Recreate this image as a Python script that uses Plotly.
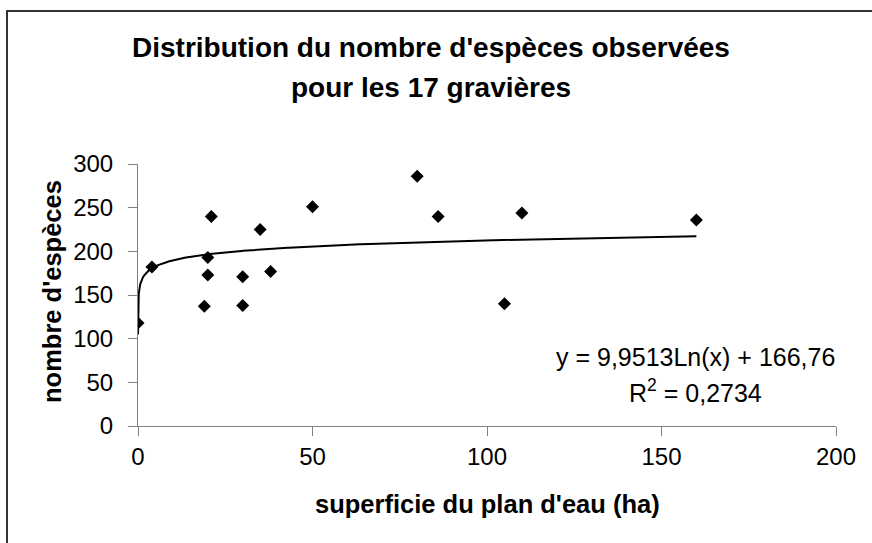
import numpy as np
import plotly.graph_objects as go

# Data
superficie_ha = [0.002, 4, 19, 20, 20, 21, 30, 30, 35, 38, 50, 80, 86, 105, 110, 160]
nombre_especes = [118, 182, 137, 173, 193, 240, 171, 138, 225, 177, 251, 286, 240, 140, 244, 236]

# Logarithmic trendline displayed on the chart
coef_a = 9.9513
coef_b = 166.76
equation_text = "y = 9,9513Ln(x) + 166,76"
r2_text = "R<sup>2</sup> = 0,2734"

title_line1 = "Distribution du nombre d'espèces observées"
title_line2 = "pour les 17 gravières"
x_title = "superficie du plan d'eau (ha)"
y_title = "nombre d'espèces"

x_ticks = [0, 50, 100, 150, 200]
y_ticks = [0, 50, 100, 150, 200, 250, 300]

FONT = "Liberation Sans, Arial, Helvetica, sans-serif"

x_min, x_max = min(superficie_ha), max(superficie_ha)
trend_x = np.concatenate([np.geomspace(x_min, 1, 200), np.linspace(1, x_max, 400)[1:]])
trend_y = coef_a * np.log(trend_x) + coef_b

fig = go.Figure()
fig.add_trace(go.Scatter(x=trend_x, y=trend_y, mode="lines",
                         line=dict(color="black", width=2), hoverinfo="skip"))
fig.add_trace(go.Scatter(x=superficie_ha, y=nombre_especes, mode="markers",
                         marker=dict(symbol="diamond", size=10, color="black")))

L, R, T, B = 138, 36, 164, 117
W, H = 872, 543
pw, ph = W - L - R, H - T - B

def px(xp):
    return (xp - L) / pw

def py(yp):
    return (H - B - yp) / ph

axis_common = dict(showgrid=False, zeroline=False, showline=True, linecolor="#808080",
                   linewidth=1, ticks="outside", ticklen=9, tickcolor="#808080",
                   tickfont=dict(family=FONT, size=24, color="black"))

fig.update_layout(
    width=W, height=H,
    margin=dict(l=L, r=R, t=T, b=B),
    paper_bgcolor="white", plot_bgcolor="white",
    showlegend=False,
    xaxis=dict(range=[0, 200], tickvals=x_ticks, **axis_common),
    yaxis=dict(range=[0, 300], tickvals=y_ticks, ticklabelstandoff=10, **axis_common),
)

annots = [
    dict(text="<b>%s</b>" % title_line1, x=px(431), y=py(47), size=28),
    dict(text="<b>%s</b>" % title_line2, x=px(431), y=py(87), size=28),
    dict(text="<b>%s</b>" % x_title, x=0.5, y=py(504), size=25.5),
    dict(text=equation_text, x=px(695), y=py(357), size=25),
    dict(text=r2_text, x=px(695), y=py(391), size=25),
]
for a in annots:
    fig.add_annotation(text=a["text"], x=a["x"], y=a["y"], xref="paper", yref="paper",
                       xanchor="center", yanchor="middle", showarrow=False,
                       font=dict(family=FONT, size=a["size"], color="black"))
fig.add_annotation(text="<b>%s</b>" % y_title, x=px(52), y=py(292), xref="paper", yref="paper",
                   xanchor="center", yanchor="middle", showarrow=False, textangle=-90,
                   font=dict(family=FONT, size=25.5, color="black"))

# Outer chart border
fig.add_shape(type="rect", xref="paper", yref="paper",
              x0=px(7), x1=px(890), y0=py(560), y1=py(11),
              line=dict(color="#333333", width=2), fillcolor="rgba(0,0,0,0)", layer="below")

fig.write_html("out.html", config={"displayModeBar": False},
               post_script="document.body.style.margin='0px';document.body.style.overflow='hidden';")
